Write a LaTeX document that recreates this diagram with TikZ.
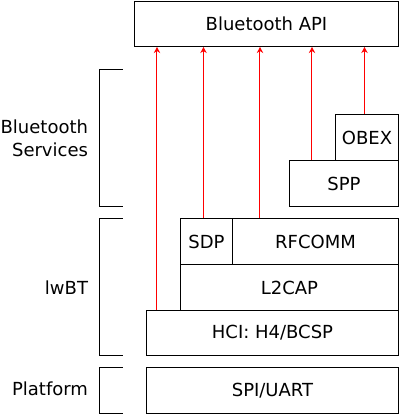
\documentclass[tikz,border=0pt]{standalone}
\usepackage{fontspec}
\setmainfont{DejaVu Sans}
\usetikzlibrary{arrows.meta}

\begin{document}
\begin{tikzpicture}[x=0.5pt, y=-0.5pt, line width=0.5pt,
  every node/.style={font=\fontsize{9}{11.5}\selectfont},
  layer/.style={rectangle, draw, inner sep=0pt, minimum height=23pt, anchor=north west},
  flow/.style={-{Stealth[length=3pt, width=3.2pt]}, red},
  group/.style={anchor=east, inner sep=0pt, align=right},
  brace/.style={black}]

\useasboundingbox (0,0) rectangle (400,414);

% API on top
\node[layer, minimum width=132pt, minimum height=22.5pt] (api) at (134,1) {Bluetooth API};

% Services
\node[layer, minimum width=31.5pt] (obex) at (335,114) {OBEX};
\node[layer, minimum width=54.5pt] (spp) at (289,160) {SPP};

% lwBT stack
\node[layer, minimum width=26pt] (sdp) at (180,218) {SDP};
\node[layer, minimum width=83pt] (rfcomm) at (232,218) {RFCOMM};
\node[layer, minimum width=109pt] (l2cap) at (180,264) {L2CAP};
\node[layer, minimum width=126pt, minimum height=22.5pt] (hci) at (146,310) {HCI: H4/BCSP};

% Platform
\node[layer, minimum width=126pt] (spi) at (146,367) {SPI/UART};

% Calls up to the API
\draw[flow] ([xshift=5.5pt]hci.north west) coordinate (h) -- (h |- api.south);
\draw[flow] ([xshift=-1.5pt]sdp.north) coordinate (s) -- (s |- api.south);
\draw[flow] ([xshift=14pt]rfcomm.north west) coordinate (r) -- (r |- api.south);
\draw[flow] ([xshift=11.5pt]spp.north west) coordinate (p) -- (p |- api.south);
\draw[flow] ([xshift=-1.25pt]obex.north) coordinate (o) -- (o |- api.south);

% Brackets and group names
\draw[brace] (123,69) -| (100,206) -- (123,206);
\draw[brace] (123,218) -| (100,355) -- (123,355);
\draw[brace] (123,367) -| (100,413) -- (123,413);
\node[group] (svc) at (88.5,138) {Bluetooth\\Services};
\node[group] (lwbt) at (88.5,288) {lwBT};
\node[group] (plat) at (88.5,389) {Platform};

\end{tikzpicture}
\end{document}
